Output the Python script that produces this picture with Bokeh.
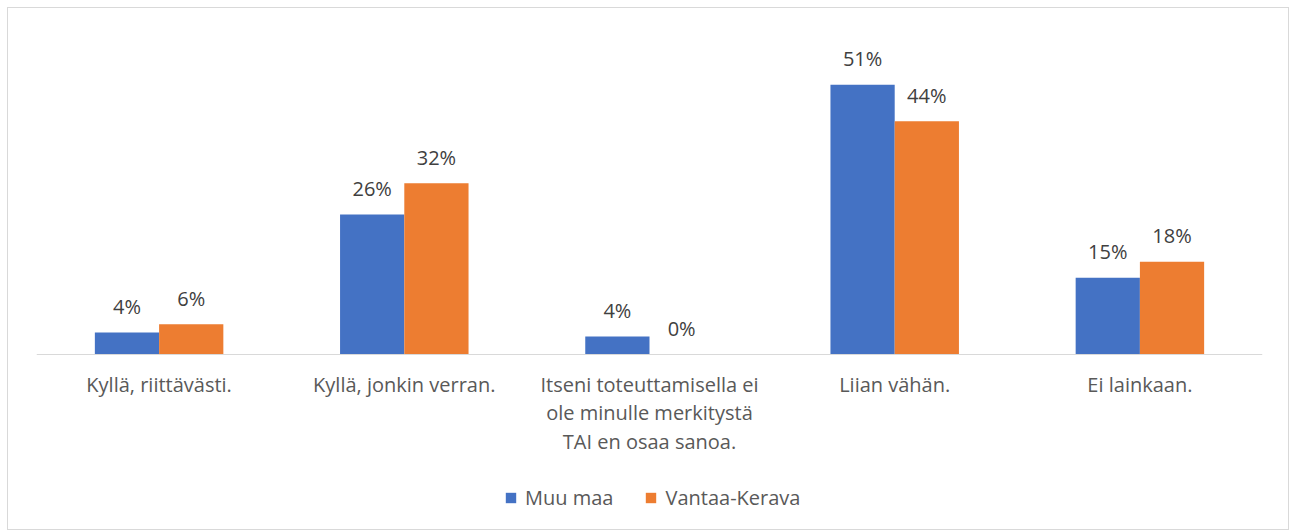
from bokeh.plotting import figure
from bokeh.models import FactorRange, Range1d, ColumnDataSource, Legend, LegendItem, Span
from bokeh.transform import dodge
from bokeh.core.properties import value
from bokeh.embed import file_html
from bokeh.resources import INLINE

categories = ["Kyllä, riittävästi.", "Kyllä, jonkin verran.",
              "Itseni toteuttamisella ei\nole minulle merkitystä\nTAI en osaa sanoa.",
              "Liian vähän.", "Ei lainkaan."]
muu_maa = [4.15, 26.4, 3.4, 50.9, 14.5]
vantaa_kerava = [5.7, 32.3, 0.0, 44.0, 17.5]
muu_maa_labels = ["4%", "26%", "4%", "51%", "15%"]
vantaa_kerava_labels = ["6%", "32%", "0%", "44%", "18%"]
series_names = ["Muu maa", "Vantaa-Kerava"]
colors = ["#4472C4", "#ED7D31"]

FONT = "Open Sans"
TEXT = "#595959"
LABEL = "#404040"

src = ColumnDataSource(dict(cat=categories, a=muu_maa, b=vantaa_kerava,
                            la=muu_maa_labels, lb=vantaa_kerava_labels))

W, H = 1282, 523
TOP = 28
Y_MAX = 60
PX_PER_UNIT = 318 / 60          # plot area height 318 px for 0..60 %
frame_h = H - TOP
y_min = Y_MAX - frame_h / PX_PER_UNIT

p = figure(x_range=FactorRange(*categories, range_padding=0, factor_padding=0),
           y_range=Range1d(y_min, Y_MAX), width=W, height=H,
           output_backend="svg", toolbar_location=None,
           min_border_left=28, min_border_right=28, min_border_top=TOP, min_border_bottom=0)
p.styles = {"border": "1px solid #D9D9D9", "box-sizing": "border-box",
            "margin-left": "7px", "margin-top": "7px"}
p.outline_line_color = None
p.xgrid.visible = False
p.ygrid.visible = False
p.yaxis.visible = False
p.xaxis.visible = False

bw = 0.262
ra = p.vbar(x=dodge("cat", -bw / 2, range=p.x_range), top="a", width=bw, source=src,
            fill_color=colors[0], line_color=None)
rb = p.vbar(x=dodge("cat", bw / 2, range=p.x_range), top="b", width=bw, source=src,
            fill_color=colors[1], line_color=None)

for col, lab, off in [("a", "la", -bw / 2), ("b", "lb", bw / 2)]:
    p.text(x=dodge("cat", off, range=p.x_range), y=col, text=lab, source=src,
           text_font=value(FONT), text_font_size="20px", text_color=LABEL,
           text_align="center", text_baseline="alphabetic", y_offset=-26)

# category axis: baseline and labels
p.add_layout(Span(location=0, dimension="width", line_color="#D9D9D9", line_width=1))
p.text(x="cat", y=0, text="cat", source=src,
       text_font=value(FONT), text_font_size="20px", text_color=TEXT,
       text_align="center", text_baseline="top", text_line_height=1.07, y_offset=16)

legend = Legend(items=[LegendItem(label=series_names[0], renderers=[ra]),
                       LegendItem(label=series_names[1], renderers=[rb])],
                orientation="horizontal", location=(468, 20),
                label_text_font=FONT, label_text_font_size="20px", label_text_color=TEXT,
                glyph_width=13, glyph_height=13, label_standoff=8, spacing=31,
                padding=0, margin=0, border_line_color=None, background_fill_alpha=0)
p.add_layout(legend, "center")

open("out.html", "w").write(file_html(p, INLINE))
